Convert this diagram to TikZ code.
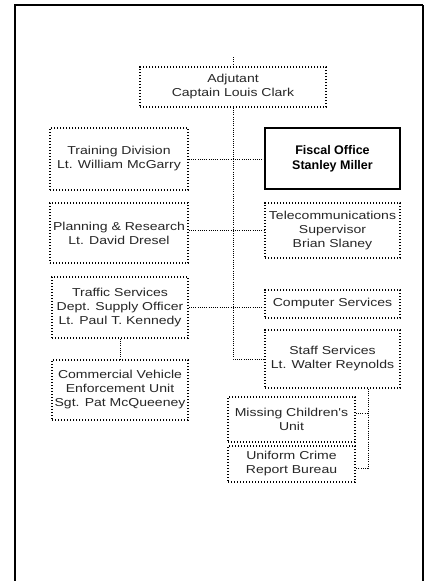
\documentclass[tikz,border=0pt]{standalone}
\usepackage{fontspec}
\setmainfont{Liberation Sans}
\newfontfamily\widesans[FakeStretch=1.22]{Liberation Sans}
\usetikzlibrary{calc}
\begin{document}
\begin{tikzpicture}[x=1pt,y=-1pt,
  unit/.style={draw, line width=1.5pt, dash pattern=on 1.4pt off 1.6pt,
    inner sep=0pt, align=center, font=\widesans\fontsize{11.5}{14}\selectfont, text=black!85},
  solidunit/.style={draw, line width=1.2pt, inner sep=0pt, align=center,
    font=\fontsize{12.5}{15}\bfseries\selectfont},
  link/.style={line width=0.9pt, dash pattern=on 0.9pt off 1.3pt}]
\useasboundingbox (0,0) rectangle (425,581);
% page frame
\draw[line width=1.8pt] (15,600) -- (15,5) -- (423,5);
\draw[line width=1.1pt] (423,5) -- (423,600);

% units
\node[unit, minimum width=186, minimum height=40] (adj) at (233,87)
  {Adjutant\\Captain Louis Clark};
\node[unit, minimum width=138, minimum height=62] (train) at (119,159)
  {Training Division\\Lt. William McGarry};
\node[solidunit, minimum width=135, minimum height=61] (fiscal) at (332.5,158.5)
  {Fiscal Office\\Stanley Miller};
\node[unit, minimum width=138, minimum height=60] (plan) at (119,233)
  {Planning \& Research\\Lt. David Dresel};
\node[unit, minimum width=135, minimum height=55] (tele) at (332.5,230.5)
  {Telecommunications\\Supervisor\\Brian Slaney};
\node[unit, minimum width=136, minimum height=61] (traffic) at (120,307.5)
  {Traffic Services\\Dept. Supply Officer\\Lt. Paul T. Kennedy};
\node[unit, minimum width=135, minimum height=28] (comp) at (332.5,304)
  {Computer Services};
\node[unit, minimum width=135, minimum height=58] (staff) at (332.5,359)
  {Staff Services\\Lt. Walter Reynolds};
\node[unit, minimum width=136, minimum height=60] (cve) at (120,390)
  {Commercial Vehicle\\Enforcement Unit\\Sgt. Pat McQueeney};
\node[unit, minimum width=127, minimum height=45] (missing) at (291.5,419.5)
  {Missing Children's\\Unit};
\node[unit, minimum width=127, minimum height=36] (ucr) at (291.5,464)
  {Uniform Crime\\Report Bureau};

% connectors
\coordinate (top) at (233,57);
\draw[link] (top) -- (adj.north);
\draw[link] (adj.south) |- (staff.west);
\draw[link] (train.east) -- (fiscal.west |- train.east);
\draw[link] (plan.east |- tele.west) -- (tele.west);
\draw[link] (traffic.east) -- (comp.west |- traffic.east);
\draw[link] (traffic.south) -- (cve.north);
\coordinate (drop) at ($(staff.south)+(35.5,0)$);
\draw[link] (drop) |- ($(ucr.east)+(0,4)$);
\draw[link] ($(missing.east)+(0,-6)$) -- (drop |- {$(missing.east)+(0,-6)$});
\end{tikzpicture}
\end{document}
